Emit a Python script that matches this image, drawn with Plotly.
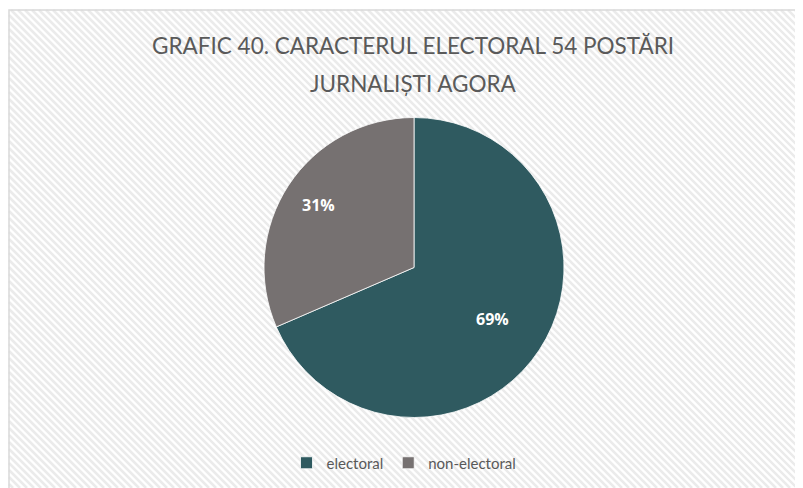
import math
import plotly.graph_objects as go

labels = ["electoral", "non-electoral"]
values = [37, 17]
colors = ["#2F5A60", "#767171"]
title_lines = ["GRAFIC 40. CARACTERUL ELECTORAL 54 POSTĂRI", "JURNALIȘTI AGORA"]

# page has an 8px body margin; figure sized to fill the rest of the 803x488 window
OFF = 8
W, H = 803 - OFF, 488 - OFF
BX0, BY0 = 9, 10  # box top-left in page pixels


def px(x, y):
    return (x - OFF) / W, 1 - (y - OFF) / H


# diagonal stripe background (decorative)
segs = []
period = 7
c = -803 - 10
while c < 488 + 10:
    x0 = max(BX0, BY0 - c)
    x1 = min(803, 488 - c)
    if x1 > x0:
        a = px(x0, x0 + c)
        b = px(x1, x1 + c)
        segs.append(f"M{a[0]:.5f},{a[1]:.5f}L{b[0]:.5f},{b[1]:.5f}")
    c += period

bx, by = px(BX0, BY0)
shapes = [
    dict(type="rect", xref="paper", yref="paper", x0=bx, y0=-0.02, x1=1.02, y1=by,
         fillcolor="white", line=dict(width=0), layer="below"),
    dict(type="path", xref="paper", yref="paper", path="".join(segs),
         line=dict(color="#ebebeb", width=2.6), layer="below"),
    dict(type="rect", xref="paper", yref="paper", x0=bx, y0=-0.02, x1=1.02, y1=by,
         fillcolor="rgba(0,0,0,0)", line=dict(color="#d9d9d9", width=1.5), layer="below"),
]

cx, cy, r = 414, 267.5, 150
dx0, dy1 = px(cx - r, cy - r)
dx1, dy0 = px(cx + r, cy + r)

fig = go.Figure(go.Pie(
    labels=labels, values=values, sort=False, direction="clockwise", rotation=0,
    marker=dict(colors=colors, line=dict(color="white", width=0.8)),
    textinfo="none",
    domain=dict(x=[dx0, dx1], y=[dy0, dy1]),
))

# slice labels placed at each slice's mid angle (computed from the values)
total = sum(values)
label_frac = [0.63, 0.76]
annotations = []
cum = 0
for v, f in zip(values, label_frac):
    mid = (cum + v / 2) / total * 2 * math.pi
    cum += v
    lx = cx + f * r * math.sin(mid)
    ly = cy - f * r * math.cos(mid)
    ax, ay = px(lx, ly)
    annotations.append(dict(text=f"<b>{round(100 * v / total)}%</b>", x=ax, y=ay,
                            xref="paper", yref="paper", showarrow=False,
                            font=dict(family="Open Sans", size=16, color="white")))

for line, yc in zip(title_lines, [45, 83]):
    tx, ty = px(413, yc)
    annotations.append(dict(text=line, x=tx, y=ty, xref="paper", yref="paper",
                            showarrow=False, xanchor="center", yanchor="middle",
                            font=dict(family="Lato", size=22.5, color="#5a5a5a")))

lgx, lgy = px(404, 463)
fig.update_layout(
    width=W, height=H,
    margin=dict(l=0, r=0, t=0, b=0),
    paper_bgcolor="white",
    shapes=shapes,
    annotations=annotations,
    legend=dict(orientation="h", x=lgx, xanchor="center", y=lgy, yanchor="middle",
                itemwidth=30,
                font=dict(family="Lato", size=15, color="#595959"), bgcolor="rgba(0,0,0,0)"),
)

fig.write_html("out.html")
